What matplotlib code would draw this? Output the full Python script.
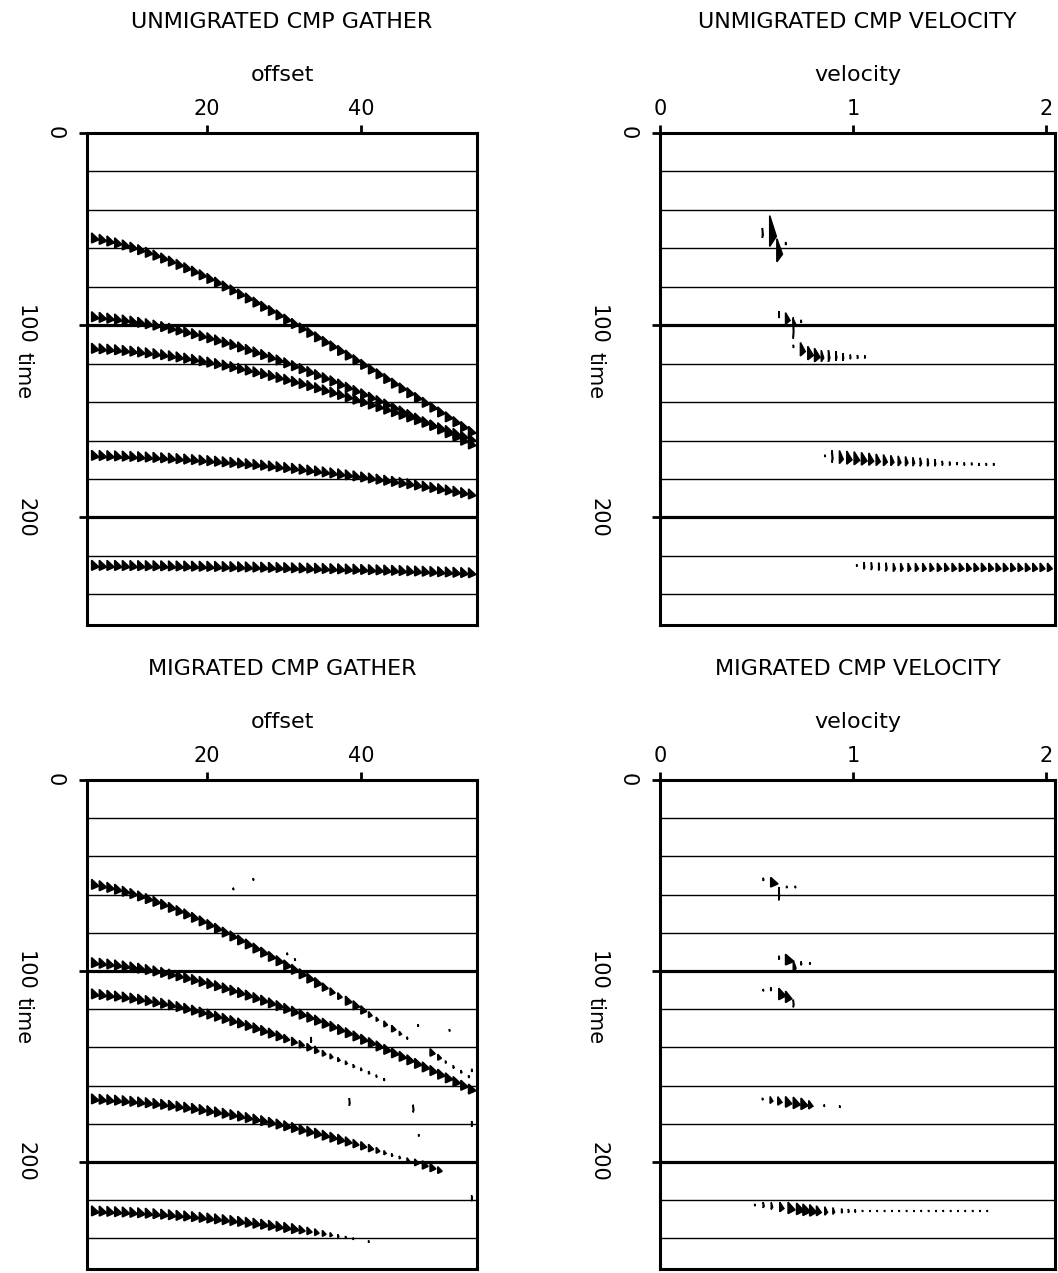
import numpy as np
import matplotlib
matplotlib.use("Agg")
import matplotlib.pyplot as plt

# ---------------- data ----------------
offsets = list(range(5, 55))              # trace offsets of the CMP gathers
time_lines = [20, 40, 60, 80, 100, 120, 140, 160, 180, 200, 220, 240]
time_ticks = [0, 100, 200]
offset_ticks = [20, 40]
velocity_ticks = [0, 1, 2]

# unmigrated gather: zero-offset time and moveout velocity of each reflection
unmig_t0 = [52.9, 94.8, 111.5, 167.5, 224.9]
unmig_vel = [0.370, 0.412, 0.475, 0.636, 1.285]

# migrated gather
mig_t0 = [52.9, 94.8, 111.2, 166.5, 225.3]
mig_vel = [0.370, 0.412, 0.389, 0.423, 0.469]
mig_amp1 = [1.0] * 30 + [0.8, 0.7, 0.6, 0.9, 0.9, 0.8, 0.5, 0.3, 0.5, 0.6,
                         0.3, 0.1, 0.0, 0.0, 0.7, 0.5, 0.1, 0.15, 0.15, 0.1]
mig_amp2 = [1.0] * 50
mig_amp3 = [1.0] * 25 + [0.8, 0.8, 0.7, 0.7, 0.6, 0.5, 0.4, 0.3, 0.25, 0.2,
                         0.15, 0.15, 0.1, 0.1] + [0.0] * 11
mig_amp4 = [1.0] * 33 + [0.9, 0.8, 0.8, 0.7, 0.5, 0.3, 0.15, 0.15, 0.3, 0.6,
                         0.8, 0.8, 0.6] + [0.0] * 4
mig_amp5 = [1.0] * 27 + [0.8, 0.7, 0.6, 0.5, 0.3, 0.15, 0.1, 0.05, 0.0,
                         0.05] + [0.0] * 13

# scattered migration noise in the migrated gather
noise_off = [23.4, 26.0, 30.4, 31.4, 33.5, 34.0, 38.5, 46.8, 47.4, 47.5, 51.5, 54.4, 54.4, 54.4]
noise_time = [57.0, 52.0, 91.0, 94.0, 136.0, 140.0, 168.5, 172.0, 128.5, 186.0, 131.0, 152.0, 180.0, 219.0]
noise_amp = [0.1] * 14
noise_half = [0.6, 0.6, 0.6, 0.6, 1.5, 0.8, 2.0, 2.0, 0.6, 0.6, 0.6, 0.8, 1.5, 1.5]

# unmigrated velocity spectrum marks
uv_vel = [0.530, 0.568, 0.605, 0.650,
          0.615, 0.650, 0.690, 0.690, 0.730,
          0.690, 0.727, 0.765, 0.800, 0.835, 0.872, 0.910, 0.947, 0.985, 1.022, 1.060,
          0.853, 0.891, 0.929, 0.967, 1.005, 1.043, 1.081, 1.119, 1.157, 1.195, 1.233, 1.271,
          1.309, 1.347, 1.385, 1.423, 1.461, 1.499, 1.537, 1.575, 1.613, 1.651, 1.689, 1.727,
          1.018, 1.056, 1.094, 1.132, 1.170, 1.208, 1.246, 1.284, 1.322, 1.360, 1.398, 1.436,
          1.474, 1.512, 1.550, 1.588, 1.626, 1.664, 1.702, 1.740, 1.778, 1.816, 1.854, 1.892,
          1.930, 1.968, 2.006]
uv_time = [52.0, 51.0, 61.0, 57.5,
           94.5, 96.5, 101.5, 98.5, 98.0,
           111.0, 112.5, 114.5, 115.5, 116.0, 116.0, 116.0, 116.5, 116.5, 116.5, 116.5,
           168.0, 168.3, 168.6, 168.9, 169.2, 169.5, 169.7, 170.0, 170.2, 170.4, 170.6, 170.8,
           171.0, 171.2, 171.4, 171.6, 171.8, 172.0, 172.0, 172.2, 172.2, 172.4, 172.4, 172.4,
           225.0, 225.2, 225.4, 225.6, 225.8, 226.0, 226.0, 226.0, 226.0, 226.0, 226.0, 226.0,
           226.0, 226.0, 226.0, 226.0, 226.0, 226.0, 226.0, 226.0, 226.0, 226.0, 226.0, 226.0,
           226.0, 226.0, 226.0]
uv_amp = [0.10, 0.95, 0.80, 0.08,
          0.08, 0.65, 0.08, 0.30, 0.08,
          0.08, 0.70, 0.80, 0.80, 0.35, 0.20, 0.15, 0.10, 0.08, 0.08, 0.06,
          0.06, 0.12, 0.55, 0.75, 0.80, 0.80, 0.70, 0.60, 0.55, 0.45, 0.40, 0.35,
          0.25, 0.20, 0.15, 0.12, 0.10, 0.08, 0.06, 0.06, 0.05, 0.05, 0.05, 0.05,
          0.06, 0.10, 0.12, 0.12, 0.15, 0.30, 0.35, 0.40, 0.45, 0.50, 0.55, 0.60,
          0.60, 0.65, 0.65, 0.65, 0.70, 0.70, 0.70, 0.70, 0.70, 0.70, 0.70, 0.70,
          0.70, 0.70, 0.70]
uv_half = [2.6, 8.0, 6.0, 0.8,
           1.8, 3.0, 5.5, 1.5, 0.8,
           0.8, 3.5, 3.5, 3.5, 3.0, 3.0, 2.5, 2.0, 1.2, 1.0, 0.8,
           0.6, 3.2, 3.4, 3.4, 3.4, 3.3, 3.2, 3.0, 2.9, 2.7, 2.6, 2.5,
           2.3, 2.2, 2.0, 1.8, 1.2, 1.0, 0.8, 0.8, 0.7, 0.7, 0.7, 0.7,
           0.6, 1.8, 2.0, 2.0, 2.2, 2.2, 2.2, 2.2, 2.2, 2.2, 2.2, 2.2,
           2.2, 2.2, 2.2, 2.2, 2.2, 2.2, 2.2, 2.2, 2.2, 2.2, 2.2, 2.2,
           2.2, 2.2, 2.2]

# migrated velocity spectrum marks
mv_vel = [0.534, 0.573, 0.615, 0.655, 0.700,
          0.615, 0.650, 0.690, 0.730, 0.775,
          0.534, 0.573, 0.615, 0.650, 0.690,
          0.530, 0.570, 0.610, 0.650, 0.690, 0.730, 0.770, 0.850, 0.930,
          0.490, 0.534, 0.576, 0.620, 0.663, 0.707, 0.740, 0.775, 0.810, 0.853, 0.895,
          0.940, 0.975, 1.010, 1.048, 1.086, 1.124, 1.162, 1.200, 1.238, 1.276, 1.314,
          1.352, 1.390, 1.428, 1.466, 1.504, 1.542, 1.580, 1.618, 1.656, 1.694]
mv_time = [52.0, 53.5, 59.5, 56.0, 56.0,
           93.0, 94.0, 97.5, 96.0, 96.0,
           110.0, 109.5, 112.0, 113.5, 117.0,
           167.0, 167.5, 168.0, 168.5, 169.0, 169.5, 170.0, 170.5, 171.0,
           222.5, 222.5, 223.0, 223.5, 224.0, 224.5, 225.0, 225.3, 225.5, 225.6, 225.6,
           225.6, 225.6, 225.6, 225.6, 225.6, 225.6, 225.6, 225.6, 225.6, 225.6, 225.6,
           225.6, 225.6, 225.6, 225.6, 225.6, 225.6, 225.6, 225.6, 225.6, 225.6]
mv_amp = [0.10, 1.05, 0.10, 0.08, 0.08,
          0.10, 1.20, 0.40, 0.10, 0.08,
          0.08, 0.10, 1.00, 0.90, 0.10,
          0.10, 0.40, 0.60, 0.90, 1.00, 1.00, 0.60, 0.06, 0.06,
          0.06, 0.15, 0.20, 0.60, 1.00, 1.10, 1.10, 1.00, 0.70, 0.40, 0.25,
          0.12, 0.10, 0.07, 0.05, 0.05, 0.05, 0.05, 0.05, 0.05, 0.05, 0.05,
          0.05, 0.05, 0.05, 0.05, 0.05, 0.05, 0.05, 0.05, 0.05, 0.05]
mv_half = [0.8, 2.5, 3.5, 0.6, 0.6,
           1.0, 2.8, 3.0, 1.0, 0.6,
           0.6, 1.0, 3.0, 3.0, 2.0,
           0.6, 1.8, 2.2, 2.8, 3.0, 3.0, 2.2, 0.6, 0.6,
           0.6, 1.5, 1.8, 2.5, 3.0, 3.0, 3.0, 3.0, 2.6, 2.2, 1.8,
           1.2, 1.0, 0.8, 0.5, 0.5, 0.5, 0.5, 0.5, 0.5, 0.5, 0.5,
           0.5, 0.5, 0.5, 0.5, 0.5, 0.5, 0.5, 0.5, 0.5, 0.5]

titles = ["UNMIGRATED CMP GATHER", "UNMIGRATED CMP VELOCITY",
          "MIGRATED CMP GATHER", "MIGRATED CMP VELOCITY"]

# ---------------- drawing ----------------
plt.rcParams['font.family'] = ['DejaVu Sans']
W, H = 1058, 1273
fig = plt.figure(figsize=(W / 100, H / 100), dpi=100)


def px_axes(x0, y0, x1, y1):
    return fig.add_axes([x0 / W, 1 - y1 / H, (x1 - x0) / W, (y1 - y0) / H])


def lobe(ax, x0, t, width, half):
    xs = [x0, x0 + width, x0]
    ys = [t - half, t + 0.35 * half, t + half]
    ax.fill(xs, ys, facecolor='black', edgecolor='black', lw=1.1, zorder=3)


def frame(ax, xlim, xticks, xlabel, title):
    ax.set_xlim(*xlim)
    ax.set_ylim(256, 0)
    for t in time_lines:
        ax.axhline(t, color='black', lw=2.3 if t % 100 == 0 else 1.0, zorder=1)
    for s in ax.spines.values():
        s.set_linewidth(2.2)
    ax.xaxis.tick_top()
    ax.set_xticks(xticks)
    ax.set_xticklabels([str(v) for v in xticks])
    ax.tick_params(axis='x', direction='out', length=6, width=2, pad=4, labelsize=15)
    ax.set_yticks(time_ticks)
    ax.tick_params(axis='y', direction='out', length=6, width=2, labelleft=False)
    for t in time_ticks:
        dx = -32 if t == 0 else -62
        ax.annotate(str(t), xy=(0, t), xycoords=('axes fraction', 'data'),
                    xytext=(dx, 0), textcoords='offset pixels', rotation=-90,
                    ha='center', va='center', fontsize=15)
    ax.annotate('time', xy=(0, 126), xycoords=('axes fraction', 'data'),
                xytext=(-64, 0), textcoords='offset pixels', rotation=-90,
                ha='center', va='center', fontsize=15)
    ax.annotate(xlabel, xy=(0.5, 1), xycoords='axes fraction', xytext=(0, 58),
                textcoords='offset pixels', ha='center', va='center', fontsize=16)
    ax.annotate(title, xy=(0.5, 1), xycoords='axes fraction', xytext=(0, 111),
                textcoords='offset pixels', ha='center', va='center', fontsize=16)


def gather(ax, t0s, vels, amps):
    for k, (t0, v) in enumerate(zip(t0s, vels)):
        for i, x in enumerate(offsets):
            a = amps[k][i]
            if a <= 0:
                continue
            t = np.sqrt(t0 ** 2 + (x / v) ** 2)
            lobe(ax, x, t, 0.95 * a, 0.5 + 2.1 * a)


def spectrum(ax, vel, tim, amp, half):
    for v, t, a, h in zip(vel, tim, amp, half):
        lobe(ax, v, t, 0.036 * a, h)


ax1 = px_axes(87, 133, 477, 625)
ax2 = px_axes(660, 133, 1055, 625)
ax3 = px_axes(87, 780, 477, 1269)
ax4 = px_axes(660, 780, 1055, 1269)

frame(ax1, (4.4, 55.1), offset_ticks, 'offset', titles[0])
frame(ax2, (0, 2.045), velocity_ticks, 'velocity', titles[1])
frame(ax3, (4.4, 55.1), offset_ticks, 'offset', titles[2])
frame(ax4, (0, 2.045), velocity_ticks, 'velocity', titles[3])

gather(ax1, unmig_t0, unmig_vel, [[1.0] * 50] * 5)
gather(ax3, mig_t0, mig_vel, [mig_amp1, mig_amp2, mig_amp3, mig_amp4, mig_amp5])
for x, t, a, h in zip(noise_off, noise_time, noise_amp, noise_half):
    lobe(ax3, x, t, 0.9 * a, h)

spectrum(ax2, uv_vel, uv_time, uv_amp, uv_half)
spectrum(ax4, mv_vel, mv_time, mv_amp, mv_half)

fig.savefig('out.png', dpi=100)
